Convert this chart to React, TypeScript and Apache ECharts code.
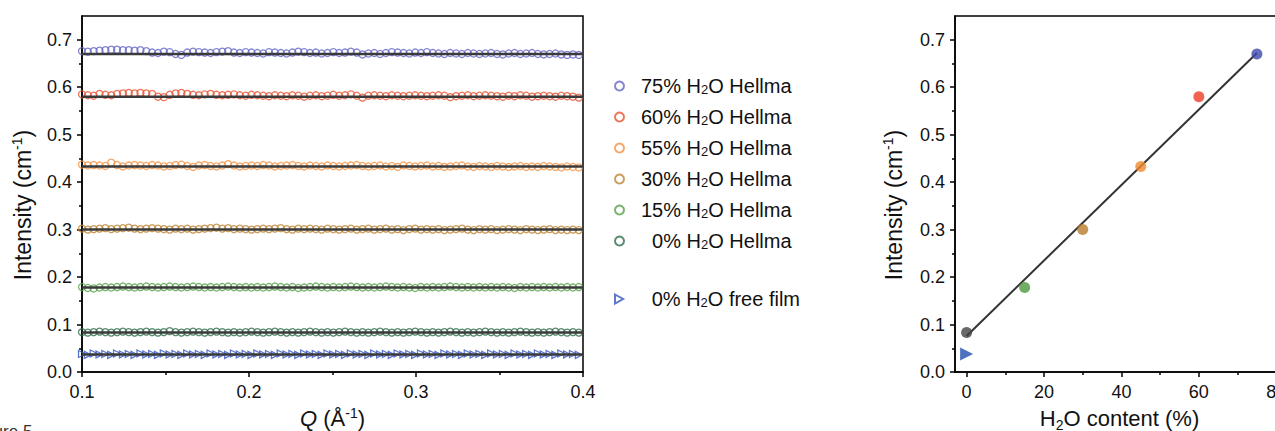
import React, { useEffect, useRef } from "react";
import * as echarts from "echarts";

// ---------- Data: left panel (Q scans) ----------
const Q = [
  0.1, 0.1035, 0.107, 0.1105, 0.114, 0.1175, 0.121, 0.1245, 0.128, 0.1315,
  0.135, 0.1385, 0.142, 0.1455, 0.149, 0.1525, 0.156, 0.1595, 0.163, 0.1665,
  0.17, 0.1735, 0.177, 0.1805, 0.184, 0.1875, 0.191, 0.1945, 0.198, 0.2015,
  0.205, 0.2085, 0.212, 0.2155, 0.219, 0.2225, 0.226, 0.2295, 0.233, 0.2365,
  0.24, 0.2435, 0.247, 0.2505, 0.254, 0.2575, 0.261, 0.2645, 0.268, 0.2715,
  0.275, 0.2785, 0.282, 0.2855, 0.289, 0.2925, 0.296, 0.2995, 0.303, 0.3065,
  0.31, 0.3135, 0.317, 0.3205, 0.324, 0.3275, 0.331, 0.3345, 0.338, 0.3415,
  0.345, 0.3485, 0.352, 0.3555, 0.359, 0.3625, 0.366, 0.3695, 0.373, 0.3765,
  0.38, 0.3835, 0.387, 0.3905, 0.394, 0.3975,
];

const s75 = [
  0.676, 0.675, 0.676, 0.677, 0.678, 0.679, 0.679, 0.678, 0.678, 0.677,
  0.678, 0.676, 0.673, 0.672, 0.675, 0.674, 0.67, 0.668, 0.673, 0.675,
  0.674, 0.673, 0.672, 0.674, 0.675, 0.676, 0.673, 0.672, 0.674, 0.673,
  0.672, 0.671, 0.674, 0.673, 0.672, 0.671, 0.673, 0.675, 0.674, 0.672,
  0.673, 0.671, 0.672, 0.674, 0.672, 0.673, 0.675, 0.673, 0.669, 0.671,
  0.672, 0.67, 0.672, 0.674, 0.673, 0.672, 0.671, 0.673, 0.672, 0.674,
  0.672, 0.671, 0.67, 0.672, 0.671, 0.67, 0.672, 0.671, 0.67, 0.671,
  0.672, 0.67, 0.669, 0.671, 0.672, 0.67, 0.671, 0.672, 0.67, 0.669,
  0.67, 0.671, 0.669, 0.668, 0.669, 0.668,
];
const s60 = [
  0.585, 0.583, 0.582, 0.586, 0.584, 0.583, 0.586, 0.587, 0.588, 0.587,
  0.588, 0.587, 0.586, 0.58, 0.579, 0.584, 0.587, 0.588, 0.586, 0.584,
  0.583, 0.585, 0.586, 0.584, 0.583, 0.584, 0.585, 0.583, 0.582, 0.584,
  0.583, 0.582, 0.581, 0.583, 0.582, 0.581, 0.583, 0.582, 0.58, 0.582,
  0.583, 0.581, 0.582, 0.584, 0.582, 0.583, 0.585, 0.582, 0.578, 0.582,
  0.583, 0.582, 0.581, 0.583, 0.582, 0.581, 0.582, 0.583, 0.582, 0.581,
  0.582, 0.583, 0.582, 0.579, 0.581, 0.582, 0.583, 0.581, 0.582, 0.583,
  0.582, 0.581, 0.58, 0.582, 0.581, 0.583, 0.582, 0.58, 0.581, 0.582,
  0.581, 0.58, 0.582, 0.581, 0.58, 0.578,
];
const s55 = [
  0.437, 0.435, 0.436, 0.435, 0.434, 0.441, 0.436, 0.433, 0.435, 0.436,
  0.435, 0.434, 0.436, 0.435, 0.433, 0.434, 0.436, 0.437, 0.434, 0.432,
  0.435, 0.436, 0.434, 0.433, 0.435, 0.438, 0.435, 0.433, 0.434, 0.435,
  0.434, 0.436, 0.435, 0.433, 0.434, 0.435, 0.436, 0.434, 0.433, 0.435,
  0.434, 0.433, 0.435, 0.434, 0.433, 0.434, 0.435, 0.436, 0.434, 0.433,
  0.434, 0.435, 0.433, 0.434, 0.432, 0.435, 0.434, 0.433, 0.434, 0.435,
  0.433, 0.434, 0.432, 0.433, 0.434, 0.435, 0.433, 0.432, 0.434, 0.433,
  0.432, 0.434, 0.433, 0.432, 0.433, 0.434, 0.432, 0.433, 0.432, 0.434,
  0.433, 0.432, 0.431, 0.433, 0.432, 0.431,
];
const s30 = [
  0.302, 0.3, 0.301, 0.302, 0.303, 0.301, 0.302, 0.303, 0.304, 0.302,
  0.301, 0.302, 0.303, 0.302, 0.301, 0.3, 0.302, 0.301, 0.302, 0.3,
  0.301, 0.302, 0.303, 0.304, 0.302, 0.303, 0.301, 0.302, 0.301, 0.3,
  0.301, 0.302, 0.301, 0.302, 0.303, 0.301, 0.3, 0.302, 0.301, 0.302,
  0.301, 0.3, 0.302, 0.301, 0.3, 0.301, 0.302, 0.3, 0.301, 0.302,
  0.3, 0.301, 0.302, 0.3, 0.301, 0.299, 0.301, 0.302, 0.3, 0.301,
  0.3, 0.301, 0.299, 0.3, 0.301, 0.302, 0.3, 0.299, 0.301, 0.3,
  0.301, 0.299, 0.3, 0.301, 0.3, 0.299, 0.301, 0.3, 0.299, 0.3,
  0.301, 0.299, 0.3, 0.299, 0.3, 0.299,
];
const s15 = [
  0.179, 0.177, 0.176, 0.178, 0.179, 0.178, 0.179, 0.18, 0.179, 0.178,
  0.179, 0.18, 0.179, 0.178, 0.179, 0.18, 0.179, 0.178, 0.179, 0.18,
  0.179, 0.178, 0.179, 0.178, 0.179, 0.18, 0.179, 0.178, 0.179, 0.178,
  0.179, 0.178, 0.179, 0.18, 0.179, 0.178, 0.179, 0.177, 0.178, 0.179,
  0.18, 0.179, 0.178, 0.179, 0.178, 0.179, 0.18, 0.179, 0.178, 0.179,
  0.178, 0.179, 0.18, 0.179, 0.178, 0.179, 0.178, 0.177, 0.179, 0.178,
  0.179, 0.178, 0.179, 0.18, 0.179, 0.178, 0.179, 0.178, 0.179, 0.178,
  0.179, 0.178, 0.179, 0.178, 0.177, 0.179, 0.178, 0.179, 0.178, 0.179,
  0.178, 0.179, 0.178, 0.179, 0.178, 0.179,
];
const s0 = [
  0.084, 0.083, 0.084, 0.085, 0.084, 0.083, 0.084, 0.085, 0.084, 0.083,
  0.084, 0.085, 0.084, 0.083, 0.084, 0.086, 0.084, 0.083, 0.084, 0.085,
  0.084, 0.083, 0.084, 0.085, 0.084, 0.083, 0.084, 0.083, 0.084, 0.085,
  0.084, 0.083, 0.084, 0.085, 0.084, 0.083, 0.084, 0.083, 0.084, 0.085,
  0.084, 0.083, 0.084, 0.083, 0.084, 0.085, 0.084, 0.083, 0.084, 0.083,
  0.084, 0.085, 0.084, 0.083, 0.084, 0.083, 0.084, 0.085, 0.084, 0.083,
  0.084, 0.083, 0.084, 0.085, 0.084, 0.083, 0.084, 0.083, 0.084, 0.085,
  0.084, 0.083, 0.084, 0.083, 0.084, 0.085, 0.084, 0.083, 0.084, 0.083,
  0.084, 0.085, 0.084, 0.083, 0.084, 0.083,
];
const sFilm = [
  0.038, 0.036, 0.039, 0.037, 0.038, 0.036, 0.039, 0.037, 0.038, 0.036,
  0.039, 0.037, 0.038, 0.036, 0.039, 0.037, 0.038, 0.036, 0.039, 0.037,
  0.038, 0.036, 0.039, 0.037, 0.038, 0.036, 0.039, 0.037, 0.038, 0.036,
  0.039, 0.037, 0.038, 0.036, 0.039, 0.037, 0.038, 0.036, 0.039, 0.037,
  0.038, 0.036, 0.039, 0.037, 0.038, 0.036, 0.039, 0.037, 0.038, 0.036,
  0.039, 0.037, 0.038, 0.036, 0.039, 0.037, 0.038, 0.036, 0.039, 0.037,
  0.038, 0.036, 0.039, 0.037, 0.038, 0.036, 0.039, 0.037, 0.038, 0.036,
  0.039, 0.037, 0.038, 0.036, 0.039, 0.037, 0.038, 0.036, 0.039, 0.037,
  0.038, 0.036, 0.039, 0.037, 0.038, 0.036,
];

const seriesNames = [
  "75% H2O Hellma",
  "60% H2O Hellma",
  "55% H2O Hellma",
  "30% H2O Hellma",
  "15% H2O Hellma",
  "  0% H2O Hellma",
];
const filmName = "  0% H2O free film";
const seriesValues = [s75, s60, s55, s30, s15, s0];
const seriesColors = ["#6565c6", "#e9532f", "#f6913f", "#bd8533", "#56a048", "#2f6e4e"];
const filmColor = "#3455c2";
const fitLevels = [0.67, 0.58, 0.433, 0.3, 0.178, 0.083, 0.037];

// ---------- Data: right panel ----------
const waterContent = [0, 15, 30, 45, 60, 75];
const intensity = [0.083, 0.178, 0.3, 0.433, 0.58, 0.67];
const pointColors = ["#444444", "#4e9a3e", "#b97a2b", "#f08a2e", "#ee3c25", "#3d4aab"];
const filmPoint = [0, 0.038];
const fitLineX = [0, 75];
const fitLineY = [0.076, 0.672];

// ---------- Ticks ----------
const yTicks = [0, 0.1, 0.2, 0.3, 0.4, 0.5, 0.6, 0.7];
const yMinor = [0.05, 0.15, 0.25, 0.35, 0.45, 0.55, 0.65];
const qTicks = [0.1, 0.2, 0.3, 0.4];
const qMinor = [0.15, 0.25, 0.35];
const hTicks = [0, 20, 40, 60, 80];
const hMinor = [10, 30, 50, 70];

const FONT = "Liberation Sans";
const INK = "#111";

function majorAxis(gridIndex: number, min: number, max: number, ticks: number[], fmt: (v: number) => string, margin: number, extra: any) {
  return {
    type: "value",
    gridIndex,
    min,
    max,
    axisLine: { show: true, onZero: false, lineStyle: { color: "#000", width: 1.5 } },
    axisTick: { show: true, inside: false, length: 5, customValues: ticks, lineStyle: { color: "#000", width: 1.5 } },
    axisLabel: {
      customValues: ticks,
      formatter: fmt,
      margin,
      fontSize: 18,
      fontFamily: FONT,
      color: INK,
    },
    splitLine: { show: false },
    ...extra,
  };
}

function minorAxis(gridIndex: number, min: number, max: number, ticks: number[], extra: any) {
  return {
    type: "value",
    gridIndex,
    min,
    max,
    axisLine: { show: false, onZero: false },
    axisTick: { show: true, inside: false, length: 3, customValues: ticks, lineStyle: { color: "#000", width: 1.5 } },
    axisLabel: { show: false },
    splitLine: { show: false },
    ...extra,
  };
}

const richTitle = {
  sup: { fontSize: 14, lineHeight: 14, verticalAlign: "top", fontFamily: FONT, color: INK },
  sub: { fontSize: 14, lineHeight: 14, verticalAlign: "bottom", fontFamily: FONT, color: INK },
  i: { fontSize: 22, fontStyle: "italic", fontFamily: FONT, color: INK, lineHeight: 26 },
};
const xTitleStyle = { fontSize: 22, fontFamily: FONT, color: INK, lineHeight: 26, rich: richTitle };
const yTitleStyle = {
  fontSize: 23,
  fontFamily: FONT,
  color: INK,
  lineHeight: 26,
  padding: [0, 22, 0, 0],
  rich: richTitle,
};

const legendText = {
  fontSize: 20,
  fontFamily: FONT,
  color: INK,
  lineHeight: 20,
  padding: [0, 0, 0, 12],
  rich: {
    sub: { fontSize: 13, lineHeight: 12, verticalAlign: "bottom", fontFamily: FONT, color: INK },
  },
};
const legendFmt = (name: string) => name.replace("H2O", "H{sub|2}O");

const f1 = (v: number) => v.toFixed(1);
const f0 = (v: number) => String(Math.round(v));

const qMin = 0.1;
const qMax = 0.4;

const gridBase = {
  top: 16,
  height: 356,
  show: true,
  borderColor: "#000",
  borderWidth: 1.5,
  backgroundColor: "transparent",
  containLabel: false,
  outerBoundsMode: "none",
};

const option: any = {
  animation: false,
  backgroundColor: "#fff",
  grid: [
    { ...gridBase, left: 82, width: 501 },
    { ...gridBase, left: 955, width: 329 },
  ],
  xAxis: [
    majorAxis(0, qMin, qMax, qTicks, f1, 11, {
      position: "bottom",
      name: "{i|Q} (Å{sup|-1})",
      nameLocation: "middle",
      nameGap: 29,
      nameTextStyle: xTitleStyle,
    }),
    minorAxis(0, qMin, qMax, qMinor, { position: "bottom" }),
    majorAxis(1, -3, 82, hTicks, f0, 11, {
      position: "bottom",
      name: "H{sub|2}O content (%)",
      nameLocation: "middle",
      nameGap: 32,
      nameTextStyle: xTitleStyle,
    }),
    minorAxis(1, -3, 82, hMinor, { position: "bottom" }),
  ],
  yAxis: [
    majorAxis(0, 0, 0.75, yTicks, f1, 10, {
      position: "left",
      name: "Intensity (cm{sup|-1})",
      nameLocation: "middle",
      nameGap: 46,
      nameTextStyle: yTitleStyle,
    }),
    minorAxis(0, 0, 0.75, yMinor, { position: "left" }),
    majorAxis(1, 0, 0.75, yTicks, f1, 10, {
      position: "left",
      name: "Intensity (cm{sup|-1})",
      nameLocation: "middle",
      nameGap: 48,
      nameTextStyle: yTitleStyle,
    }),
    minorAxis(1, 0, 0.75, yMinor, { position: "left" }),
  ],
  legend: [
    {
      data: seriesNames,
      orient: "vertical",
      left: 609,
      top: 71,
      itemWidth: 9,
      itemHeight: 9,
      itemGap: 11,
      selectedMode: false,
      formatter: legendFmt,
      textStyle: legendText,
    },
    {
      data: [{ name: filmName, icon: "path://M0,0L9,5L0,10Z" }],
      orient: "vertical",
      left: 609,
      top: 284,
      itemWidth: 9,
      itemHeight: 9,
      selectedMode: false,
      formatter: legendFmt,
      textStyle: legendText,
    },
  ],
  graphic: [
    {
      type: "text",
      left: -30,
      top: 423,
      style: { text: "Figure 5", fontSize: 17, fontFamily: FONT, fill: "#333" },
      silent: true,
    },
  ],
  series: [
    ...seriesValues.map((vals, k) => ({
      type: "scatter",
      name: seriesNames[k],
      xAxisIndex: 0,
      yAxisIndex: 0,
      data: Q.map((q, i) => [q, vals[i]]),
      symbol: "circle",
      symbolSize: 7,
      itemStyle: { color: "transparent", borderColor: seriesColors[k], borderWidth: 1.3 },
      z: 2,
      silent: true,
    })),
    {
      type: "scatter",
      name: filmName,
      xAxisIndex: 0,
      yAxisIndex: 0,
      data: Q.map((q, i) => [q, sFilm[i]]),
      symbol: "triangle",
      symbolRotate: -90,
      symbolSize: 7,
      itemStyle: { color: "transparent", borderColor: filmColor, borderWidth: 1.3 },
      z: 2,
      silent: true,
    },
    ...fitLevels.map((lvl) => ({
      type: "line",
      xAxisIndex: 0,
      yAxisIndex: 0,
      data: [
        [qMin, lvl],
        [qMax, lvl],
      ],
      symbol: "none",
      lineStyle: { color: "#3a3a3a", width: 2.5 },
      z: 3,
      silent: true,
    })),
    {
      type: "line",
      xAxisIndex: 2,
      yAxisIndex: 2,
      data: fitLineX.map((x, i) => [x, fitLineY[i]]),
      symbol: "none",
      lineStyle: { color: "#333", width: 2 },
      z: 2,
      silent: true,
    },
    {
      type: "scatter",
      xAxisIndex: 2,
      yAxisIndex: 2,
      data: waterContent.map((x, i) => ({ value: [x, intensity[i]], itemStyle: { color: pointColors[i] } })),
      symbol: "circle",
      symbolSize: 11,
      z: 3,
      silent: true,
    },
    {
      type: "scatter",
      xAxisIndex: 2,
      yAxisIndex: 2,
      data: [filmPoint],
      symbol: "triangle",
      symbolRotate: -90,
      symbolSize: 13,
      itemStyle: { color: "#1f4fb2" },
      z: 3,
      silent: true,
    },
  ],
};

export default function App() {
  const ref = useRef<HTMLDivElement>(null);
  useEffect(() => {
    const chart = echarts.init(ref.current!, null, { renderer: "svg" });
    chart.setOption(option);
    return () => chart.dispose();
  }, []);
  return (
    <div
      style={{
        position: "fixed",
        left: 0,
        top: 0,
        width: 1275,
        height: 431,
        overflow: "hidden",
        background: "#fff",
      }}
    >
      <div ref={ref} style={{ width: 1300, height: 431 }} />
    </div>
  );
}
